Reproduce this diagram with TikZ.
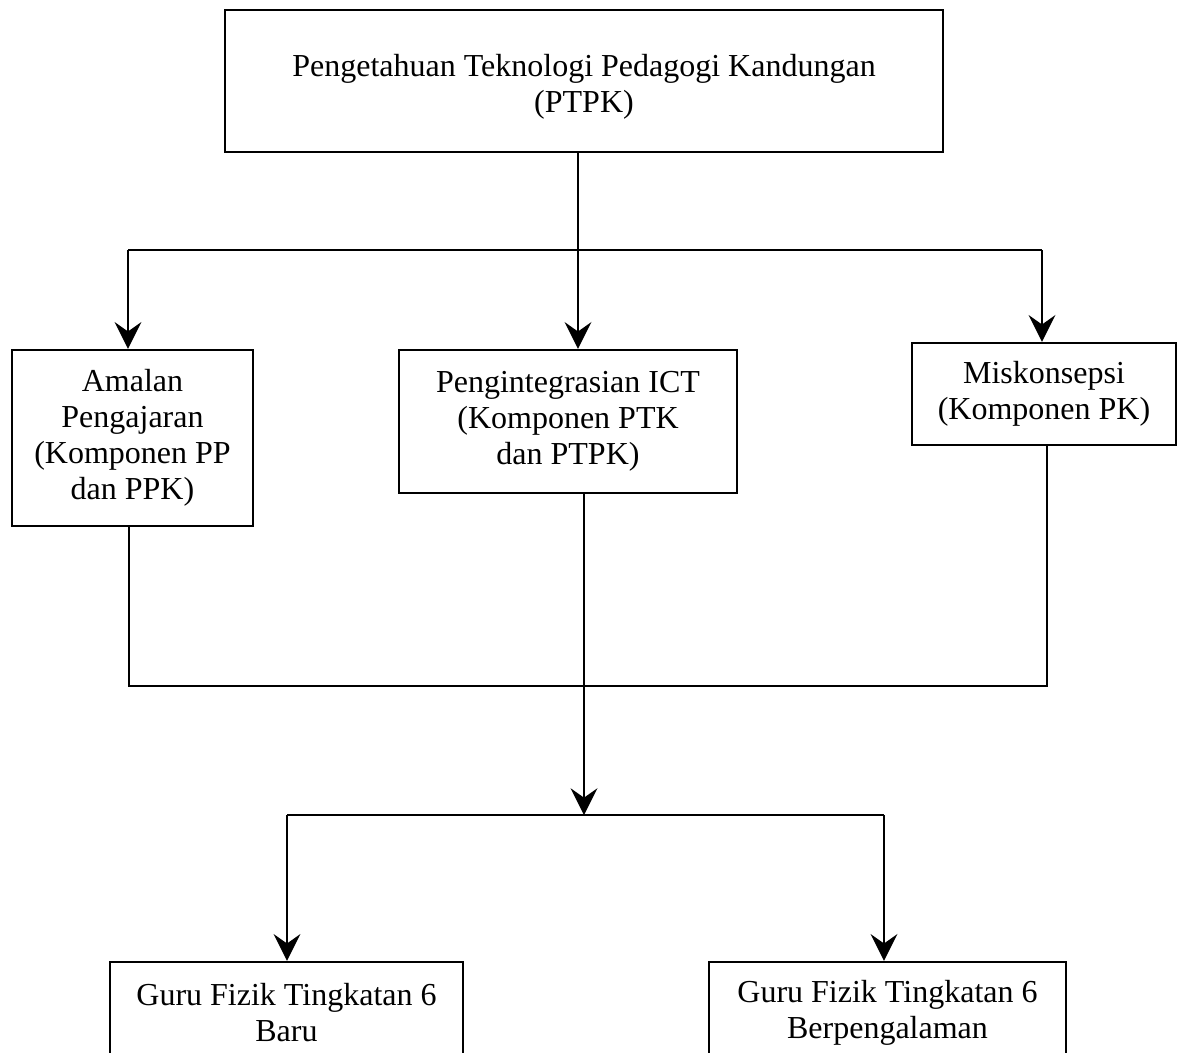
\documentclass[tikz,border=0pt]{standalone}
\usepackage{fontspec}
\setmainfont{Liberation Serif}
\usetikzlibrary{arrows.meta}

\begin{document}
\begin{tikzpicture}[x=0.375pt, y=-0.375pt, line width=1.1pt,
  box/.style={draw, line width=0.9pt, align=center, inner sep=0pt,
    font=\fontsize{12}{13.5}\selectfont},
  arr/.style={-{Stealth[length=10pt,width=10pt,inset=3.5pt]}}]
\useasboundingbox (0,0) rectangle (1181,1052);
%boxes
\node [box, minimum width=269.25pt, minimum height=53.25pt] (ptpk) at (584,81)
  {\rule{0pt}{13pt}Pengetahuan Teknologi Pedagogi Kandungan\\(PTPK)};
\node [box, minimum width=90.4pt, minimum height=66pt] (amalan) at (132.5,438)
  {Amalan\\Pengajaran\\(Komponen PP\\dan PPK)};
\node [box, minimum width=126.75pt, minimum height=53.6pt] (ict) at (568,421.5)
  {Pengintegrasian ICT\\(Komponen PTK\\dan PTPK)};
\node [box, minimum width=99pt, minimum height=38.25pt] (misk) at (1044,394)
  {Miskonsepsi\\(Komponen PK)};
\node [box, minimum width=132.4pt, minimum height=38.25pt] (baru) at (286.5,1013)
  {Guru Fizik Tingkatan 6\\Baru};
\node [box, minimum width=133.9pt, minimum height=38.25pt] (berp) at (887.5,1013)
  {Guru Fizik Tingkatan 6\\Berpengalaman};
%top branch
\coordinate (t1) at (578,250);
\coordinate (l1) at (128,250);
\coordinate (r1) at (1042,250);
\draw (ptpk.south -| t1) -- (t1);
\draw (l1) -- (r1);
\draw [arr] (l1) -- (l1 |- amalan.north);
\draw [arr] (t1) -- (t1 |- ict.north);
\draw [arr] (r1) -- (r1 |- misk.north);
%joining line
\coordinate (l2) at (129,686);
\coordinate (r2) at (1047,686);
\draw (amalan.south -| l2) -- (l2) -- (r2) -- (misk.south -| r2);
\coordinate (m2) at (584,815);
\draw [arr] (ict.south -| m2) -- (m2);
%bottom branch
\coordinate (l3) at (287,815);
\coordinate (r3) at (884,815);
\draw (l3) -- (r3);
\draw [arr] (l3) -- (l3 |- baru.north);
\draw [arr] (r3) -- (r3 |- berp.north);
\end{tikzpicture}
\end{document}
